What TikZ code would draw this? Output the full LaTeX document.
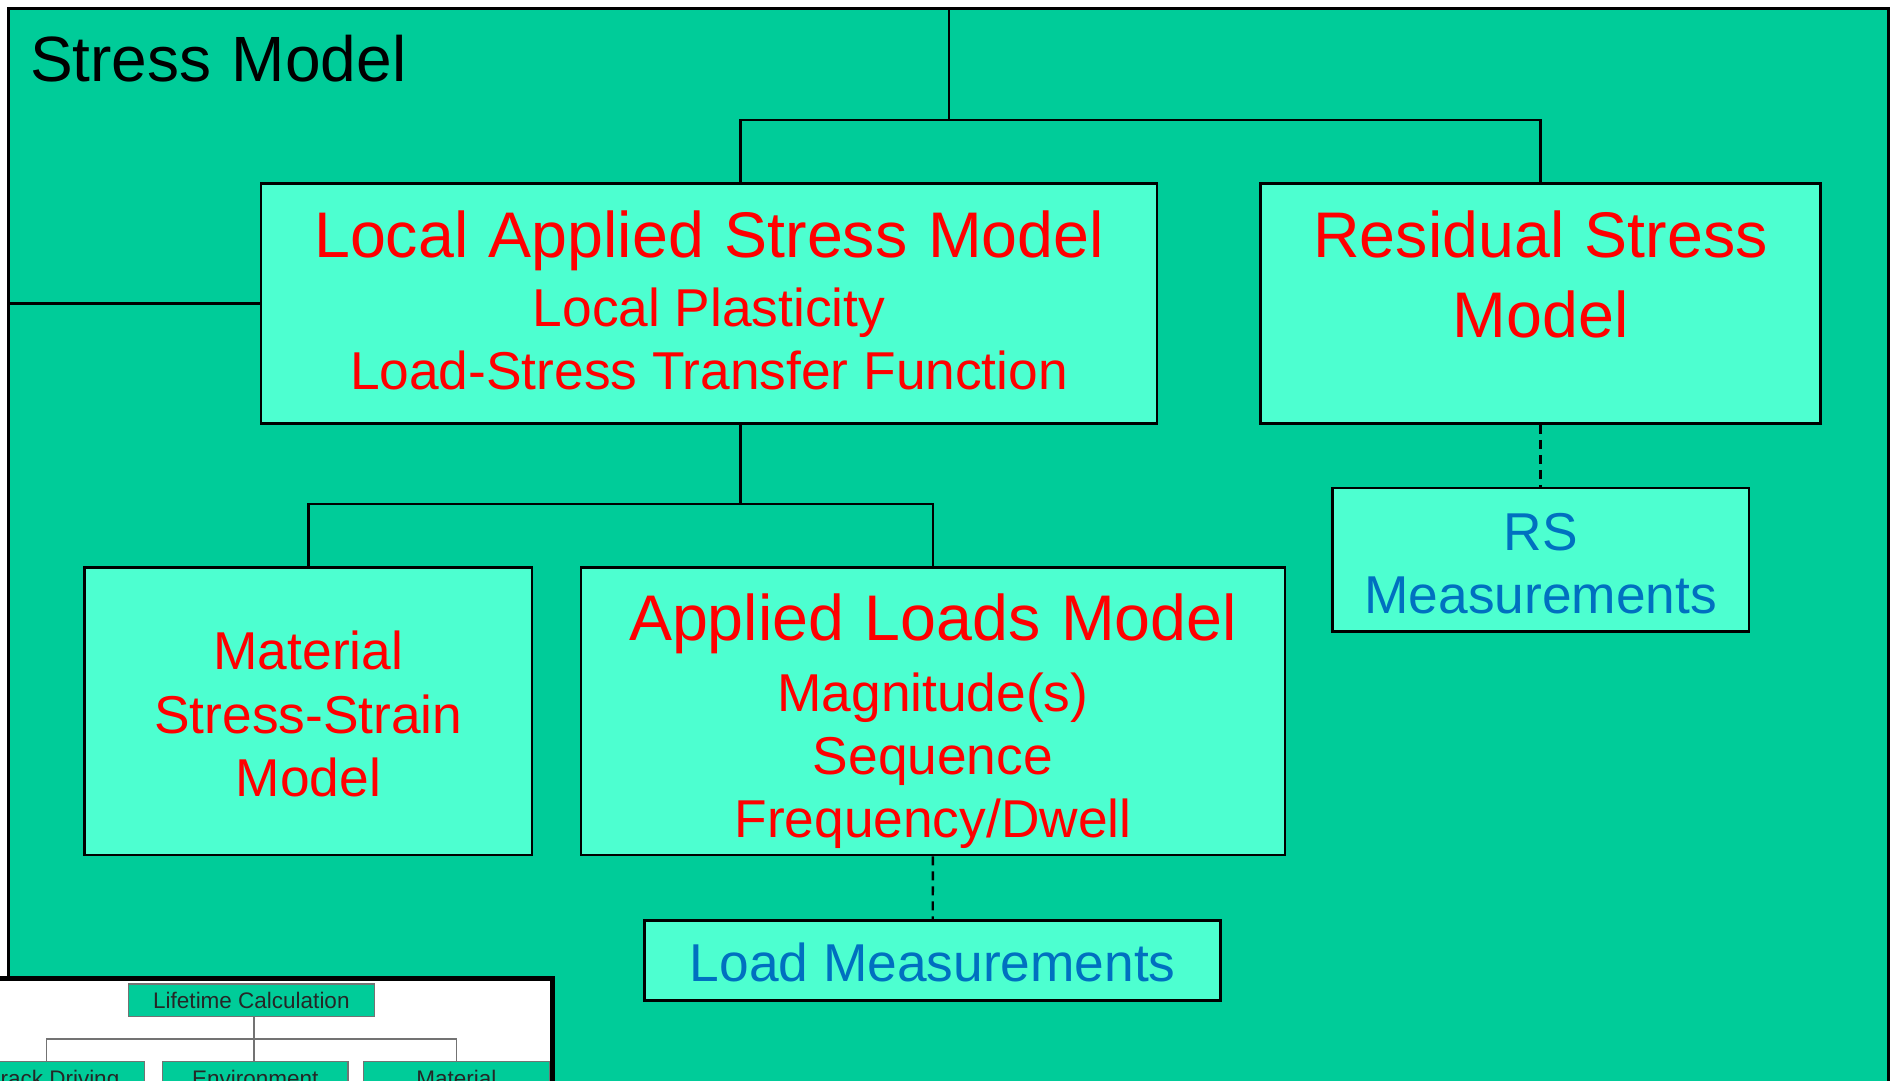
\documentclass[tikz,border=0pt]{standalone}
\usepackage{fontspec}
\setmainfont{Liberation Sans}
\newfontfamily\headfont{Liberation Sans}[WordSpace=1.3]
\newfontfamily\boxheadfont{Liberation Sans}[WordSpace=1.15]
\usetikzlibrary{calc}

\definecolor{panel}{RGB}{0,204,153}
\definecolor{boxfill}{RGB}{77,255,208}
\definecolor{hot}{RGB}{255,0,0}
\definecolor{meas}{RGB}{0,112,192}

\newcommand\fsz[1]{\fontsize{#1}{#1}\selectfont}

\begin{document}
\begin{tikzpicture}[x=1pt,y=-1pt,
  modelbox/.style={rectangle, draw=black, line width=2.6pt, fill=boxfill, inner sep=0pt},
  link/.style={draw=black, line width=2.4pt},
  dlink/.style={link, dash pattern=on 9pt off 6pt},
  txt/.style={anchor=base, inner sep=0pt},
  ttl/.style={txt, text=hot, font=\boxheadfont\fsz{64.5}},
  sub/.style={txt, text=hot, font=\fsz{53.3}},
  msr/.style={txt, text=meas, font=\fsz{53.3}},
  minibox/.style={rectangle, draw=black!55, line width=1.2pt, fill=panel, inner sep=0pt},
  minilink/.style={draw=black!55, line width=1.2pt},
  minitxt/.style={txt, text=black!85, font=\fsz{22.5}}]

\useasboundingbox (0,0) rectangle (1897,1080);
\fill[white] (0,0) rectangle (1897,1080);

% outer panel
\draw[line width=3pt, fill=panel] (8.5,8.5) rectangle (1888,1120);
\node[txt, font=\headfont\fsz{64}, anchor=base west] (title) at (30,81.7) {Stress Model};

% first level
\node[modelbox, minimum width=896pt, minimum height=240pt] (lasm) at (709,303.5) {};
\node[ttl] (lasm1) at (709,257.7) {Local Applied Stress Model};
\node[sub] (lasm2) at (709,326.6) {Local Plasticity};
\node[sub] (lasm3) at (709,389.6) {Load-Stress Transfer Function};

\node[modelbox, minimum width=560pt, minimum height=240pt] (rsm) at (1540.6,303.5) {};
\node[ttl] (rsm1) at (1540.6,257.7) {Residual Stress};
\node[ttl] (rsm2) at (1540.6,337) {Model};

% second level
\node[modelbox, minimum width=447.5pt, minimum height=287.5pt] (mat) at (308.3,711.4) {};
\node[sub] (mat1) at (308.3,669) {Material};
\node[sub] (mat2) at (308.3,733) {Stress-Strain};
\node[sub] (mat3) at (308.3,796) {Model};

\node[modelbox, minimum width=703.8pt, minimum height=287.5pt] (alm) at (932.9,711.4) {};
\node[ttl] (alm1) at (932.9,640) {Applied Loads Model};
\node[sub] (alm2) at (932.9,711.4) {Magnitude(s)};
\node[sub] (alm3) at (932.9,774.3) {Sequence};
\node[sub] (alm4) at (932.9,837.2) {Frequency/Dwell};

% measurement boxes
\node[modelbox, minimum width=416.7pt, minimum height=143.8pt] (rsmeas) at (1540.8,559.7) {};
\node[msr] (rsmeas1) at (1540.8,550) {RS};
\node[msr] (rsmeas2) at (1540.8,613.3) {Measurements};

\node[modelbox, minimum width=576pt, minimum height=80pt] (loadm) at (932.7,960.5) {};
\node[msr] (loadm1) at (932.7,981.7) {Load Measurements};

% connectors
\coordinate (frameTop) at (948.7,8.5);
\coordinate (frameLeft) at (8.5,303.5);
\coordinate (bus) at (948.7,119.7);
\coordinate (tapL) at (740.4,0);
\coordinate (bus2) at (740.4,503.7);

\draw[link] (frameTop) -- (bus);
\draw[link] (tapL |- lasm.north) -- (tapL |- bus) -- (rsm.north |- bus) -- (rsm.north);
\draw[link] (frameLeft) -- (lasm.west);
\draw[link] (tapL |- lasm.south) -- (bus2);
\draw[link] (mat.north) -- (mat.north |- bus2) -- (alm.north |- bus2) -- (alm.north);
\draw[dlink] (rsm.south) -- (rsmeas.north -| rsm.south);
\draw[dlink] (alm.south) -- (loadm.north);

% overview thumbnail, cut by the page edge
\begin{scope}
  \clip (0,0) rectangle (1897,1080);
  \fill[white] (-20,978.5) rectangle (552.5,1120);
  \node[minibox, minimum width=245.7pt, minimum height=32.7pt] (life) at (251.4,1000.3) {};
  \node[minitxt] (lifeT) at (251.4,1008.3) {Lifetime Calculation};
  \node[minibox, minimum width=185.6pt, minimum height=60pt] (crack) at (51.8,1091.7) {};
  \node[minibox, minimum width=185.6pt, minimum height=60pt] (env) at (255.2,1091.7) {};
  \node[minibox, minimum width=185.6pt, minimum height=60pt] (matl) at (456.3,1091.7) {};
  \node[minitxt] (crackT) at (51.8,1086) {Crack Driving};
  \node[minitxt] (envT) at (255.2,1086) {Environment};
  \node[minitxt] (matlT) at (456.3,1086) {Material};
  \coordinate (ibus) at (254,1039);
  \coordinate (ileft) at (46.4,0);
  \draw[minilink] (ibus |- life.south) -- (ibus) -- (ibus |- env.north);
  \draw[minilink] (ileft |- crack.north) -- (ileft |- ibus) -- (matl.north |- ibus) -- (matl.north);
  \draw[line width=5pt] (-20,978.5) rectangle (552.5,1120);
\end{scope}
\end{tikzpicture}
\end{document}
